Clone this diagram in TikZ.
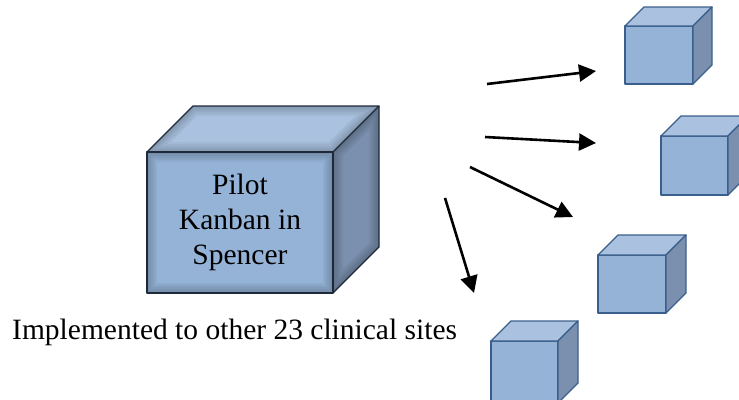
\documentclass[tikz,border=0pt]{standalone}
\usepackage{fontspec}
\setmainfont{Liberation Serif}
\usetikzlibrary{arrows.meta}
\definecolor{frontc}{HTML}{95B3D7}
\definecolor{topc}{HTML}{AAC2E0}
\definecolor{sidec}{HTML}{7B90AE}
\definecolor{edgec}{HTML}{3A5F8C}
\definecolor{bigedge}{HTML}{1E2A3A}
\tikzset{
  smalledge/.style={draw=edgec, line width=1.3pt, line join=round},
  bigedgest/.style={draw=bigedge, line width=1.4pt, line join=round},
  flow/.style={line width=2.6pt, -{Triangle[length=17pt,width=17pt]}},
  lbl/.style={font=\fontsize{29.5}{35}\selectfont, align=center, inner sep=0pt}
}
% #1 x, #2 y (front top-left), #3 w, #4 h, #5 depth, #6 edge style
\newcommand\mycube[6]{%
  \path[#6, fill=frontc] (#1,#2) rectangle ++(#3,#4);
  \path[#6, fill=topc] (#1,#2) -- ++(#5,-#5) -- ++(#3,0) -- ++(-#5,#5) -- cycle;
  \path[#6, fill=sidec] ({#1+#3},#2) -- ++(#5,-#5) -- ++(0,#4) -- ++(-#5,#5) -- cycle;
}
% inner shading of a face
\newcommand\innershade[1]{%
  \begin{scope}
    \clip #1;
    \foreach \w in {4,8,12,16,20}{\draw[black, opacity=0.045, line width=\w pt] #1;}
  \end{scope}
}
\begin{document}
\begin{tikzpicture}[x=1pt,y=-1pt]
\useasboundingbox (0,0) rectangle (739,399);
% big cube
\fill[frontc] (147,152) rectangle (333,293);
\fill[topc] (147,152) -- (193,106) -- (379,106) -- (333,152) -- cycle;
\fill[sidec] (333,152) -- (379,106) -- (379,247) -- (333,293) -- cycle;
\innershade{(147,152) -- (333,152) -- (333,293) -- (147,293) -- cycle}
\innershade{(147,152) -- (193,106) -- (379,106) -- (333,152) -- cycle}
\innershade{(333,152) -- (379,106) -- (379,247) -- (333,293) -- cycle}
\draw[bigedgest] (147,152) rectangle (333,293);
\draw[bigedgest] (147,152) -- (193,106) -- (379,106) -- (333,152);
\draw[bigedgest] (379,106) -- (379,247) -- (333,293);
\node[lbl] (pilot) at (240,222) {Pilot\\Kanban in\\Spencer};
% small cubes
\mycube{625}{26}{68}{58}{19}{smalledge}
\mycube{661}{136}{67}{59}{20}{smalledge}
\mycube{598}{255}{68}{58}{20}{smalledge}
\mycube{491}{341}{67}{62}{20}{smalledge}
% caption
\node[lbl, anchor=base west] (impl) at (12,339) {Implemented to other 23 clinical sites};
% arrows
\coordinate (a1s) at (487,84);  \coordinate (a1e) at (596,71);
\coordinate (a2s) at (485,137); \coordinate (a2e) at (596,143);
\coordinate (a3s) at (470,167); \coordinate (a3e) at (573,217);
\coordinate (a4s) at (445,198); \coordinate (a4e) at (474,293);
\draw[flow] (a1s) -- (a1e);
\draw[flow] (a2s) -- (a2e);
\draw[flow] (a3s) -- (a3e);
\draw[flow] (a4s) -- (a4e);
\end{tikzpicture}
\end{document}
